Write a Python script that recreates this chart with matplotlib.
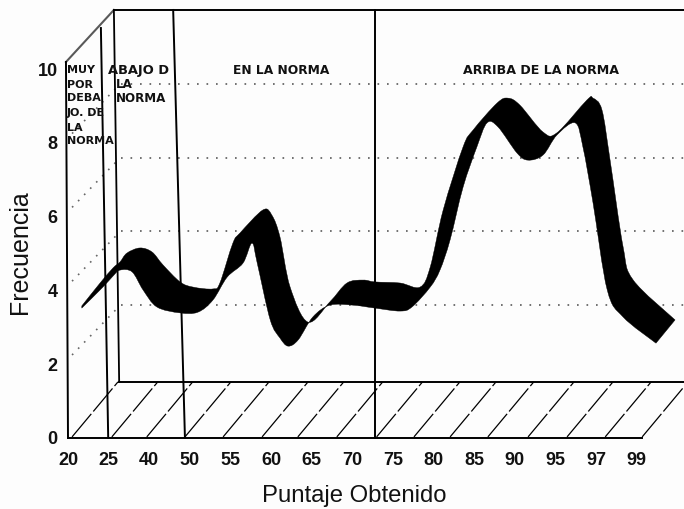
import numpy as np
import matplotlib
matplotlib.use("Agg")
import matplotlib.pyplot as plt
from matplotlib.path import Path
from matplotlib.patches import PathPatch

x_labels = ["20", "25", "40", "50", "55", "60", "65", "70", "75", "80", "85", "90", "95", "97", "99"]
y_ticks = [0, 2, 4, 6, 8, 10]
grid_levels = [2, 4, 6, 8]

# ribbon outline (x = category position, y = frequency)
upper_x = [0.34, 0.79, 1.11, 1.28, 1.45, 1.77, 2.07, 2.34, 2.76, 3.08, 3.57, 3.74, 4.06, 4.24,
           4.80, 5.02, 5.22, 5.47, 5.91, 6.45, 6.87, 7.27, 7.56, 8.18, 8.67, 8.92, 9.24, 9.73,
           9.98, 10.57, 10.84, 11.13, 11.70, 12.04, 12.78, 12.93, 13.15, 13.35, 13.67, 13.92, 14.95]
upper_y = [3.58, 4.20, 4.61, 4.77, 5.01, 5.15, 5.04, 4.69, 4.23, 4.09, 4.04, 4.20, 5.28, 5.56,
           6.18, 6.04, 5.45, 4.09, 3.14, 3.69, 4.20, 4.28, 4.23, 4.20, 4.09, 4.63, 6.18, 7.89,
           8.35, 9.08, 9.21, 9.02, 8.29, 8.27, 9.16, 9.21, 8.89, 7.53, 5.18, 4.28, 3.20]
lower_x = [0.34, 0.86, 1.11, 1.28, 1.58, 1.85, 2.19, 2.76, 3.20, 3.57, 3.92, 4.31, 4.53, 4.66,
           4.98, 5.22, 5.42, 5.67, 6.03, 6.45, 7.02, 7.56, 8.18, 8.47, 8.92, 9.16, 9.41, 9.73,
           10.07, 10.32, 10.59, 11.06, 11.33, 11.70, 12.04, 12.49, 12.68, 12.93, 13.28, 13.67, 14.48]
lower_y = [3.52, 4.09, 4.39, 4.55, 4.50, 4.01, 3.55, 3.39, 3.41, 3.74, 4.36, 4.74, 5.28, 4.74,
           3.20, 2.71, 2.49, 2.66, 3.28, 3.60, 3.60, 3.52, 3.44, 3.55, 4.09, 4.55, 5.37, 6.80,
           7.89, 8.54, 8.43, 7.72, 7.53, 7.67, 8.21, 8.54, 7.89, 6.37, 4.01, 3.28, 2.57]

# floor hatch feet along the front edge
hatch_feet = [0.10, 1.08, 1.94, 2.88, 3.82, 4.78, 5.66, 6.62, 7.60, 8.52, 9.41, 10.34, 11.33, 12.29, 13.23, 14.14]

# section dividers, (x at top, y at top, x at floor)
dividers = [(-0.05, 10.19, 0.0), (0.81, 11.11, 0.99), (2.59, 11.6, 2.88), (7.56, 11.6, 7.56)]

depth_x = 1.26
depth_y = 1.52
top_y = 11.6
x_end = 15.17
floor_end = 14.14


def smooth_edge(xs, ys):
    # bezier control points so that the outline passes through every read point
    pts = np.column_stack([xs, ys])
    verts = []
    for i in range(len(pts) - 1):
        p0 = pts[max(i - 1, 0)]
        p1 = pts[i]
        p2 = pts[i + 1]
        p3 = pts[min(i + 2, len(pts) - 1)]
        verts += [p1 + (p2 - p0) / 6, p2 - (p3 - p1) / 6, p2]
    return verts


plt.rcParams["font.family"] = ["Liberation Sans", "DejaVu Sans"]

fig = plt.figure(figsize=(6.84, 5.09), dpi=100, facecolor="#fdfdfd")
ax = fig.add_axes([68 / 684, 71 / 509, 616 / 684, 438 / 509])
ax.set_facecolor("none")
ax.set_xlim(0, x_end)
ax.set_ylim(0, 438 / 36.9)
for s in ax.spines.values():
    s.set_visible(False)

# back wall dotted lines and the same levels running down the side wall
for v in grid_levels:
    ax.plot([depth_x + 0.05, x_end], [v + 1.6, v + 1.6], color="0.35", lw=1.2,
            linestyle=(0, (1, 4.7)), zorder=1)
    ax.plot([0.1, 1.2], [v + 0.25, v + 1.5], color="0.4", lw=1.2,
            linestyle=(0, (1, 4.2)), zorder=1)

# floor
ax.plot([0, floor_end], [0, 0], color="k", lw=1.4, clip_on=False, zorder=2)
ax.plot([depth_x, x_end], [depth_y, depth_y], color="k", lw=1.4, zorder=2)
for f in hatch_feet:
    ax.plot([f, f + 1.13], [0.03, depth_y], color="k", lw=0.9,
            linestyle=(0, (24, 2.5)), zorder=2)

# walls
ax.plot([-0.05, 1.13], [10.19, 11.6], color="0.35", lw=1.5, clip_on=False, zorder=2)
ax.plot([1.13, x_end], [top_y, top_y], color="k", lw=1.4, zorder=2)
ax.plot([1.13, depth_x], [top_y, depth_y], color="k", lw=1.3, zorder=2)
for xt, yt, xb in dividers:
    ax.plot([xt, xb], [yt, 0], color="k", lw=1.4, clip_on=False, zorder=2)

# ribbon
upper_part = smooth_edge(upper_x, upper_y)
lower_part = smooth_edge(lower_x[::-1], lower_y[::-1])
verts = [(upper_x[0], upper_y[0])] + upper_part + [(lower_x[-1], lower_y[-1])] + lower_part
verts.append((upper_x[0], upper_y[0]))
codes = [Path.MOVETO] + [Path.CURVE4] * len(upper_part) + [Path.LINETO]
codes += [Path.CURVE4] * len(lower_part) + [Path.CLOSEPOLY]
ax.add_patch(PathPatch(Path(verts, codes), facecolor="k", edgecolor="k", lw=0.3, zorder=3))

# section captions
cap = dict(family="DejaVu Sans", fontweight="bold", color="#111111", va="center", zorder=4)
for txt, y in zip(["MUY", "POR", "DEBA", "JO. DE", "LA", "NORMA"],
                  [9.97, 9.57, 9.21, 8.81, 8.40, 8.05]):
    ax.text(-0.03, y, txt, ha="left", fontsize=8, **cap)
ax.text(0.99, 9.97, "ABAJO D", ha="left", fontsize=9.4, **cap)
ax.text(1.18, 9.57, "LA", ha="left", fontsize=8.6, **cap)
ax.text(1.18, 9.21, "NORMA", ha="left", fontsize=8.6, **cap)
ax.text(5.24, 9.97, "EN LA NORMA", ha="center", fontsize=8.8, **cap)
ax.text(11.65, 9.97, "ARRIBA DE LA NORMA", ha="center", fontsize=9.1, **cap)

ax.set_xticks(range(len(x_labels)))
ax.set_xticklabels(x_labels, fontsize=13, fontweight="bold", color="#111111")
ax.set_yticks(y_ticks)
ax.set_yticklabels([str(v) for v in y_ticks], fontsize=13, fontweight="bold", color="#111111")
ax.tick_params(axis="both", length=0)
ax.tick_params(axis="x", pad=10)
ax.tick_params(axis="y", pad=7.5)

ax.set_xlabel("Puntaje Obtenido", fontsize=17.2, color="#111111")
ax.set_ylabel("Frecuencia", fontsize=18, color="#111111")
ax.xaxis.set_label_coords(0.464, -0.132, transform=ax.transAxes)
ax.yaxis.set_label_coords(-0.078, 0.425, transform=ax.transAxes)
ax.xaxis.label.set_va("center")
ax.yaxis.label.set_va("center")

fig.savefig("out.png", dpi=100, facecolor=fig.get_facecolor())
